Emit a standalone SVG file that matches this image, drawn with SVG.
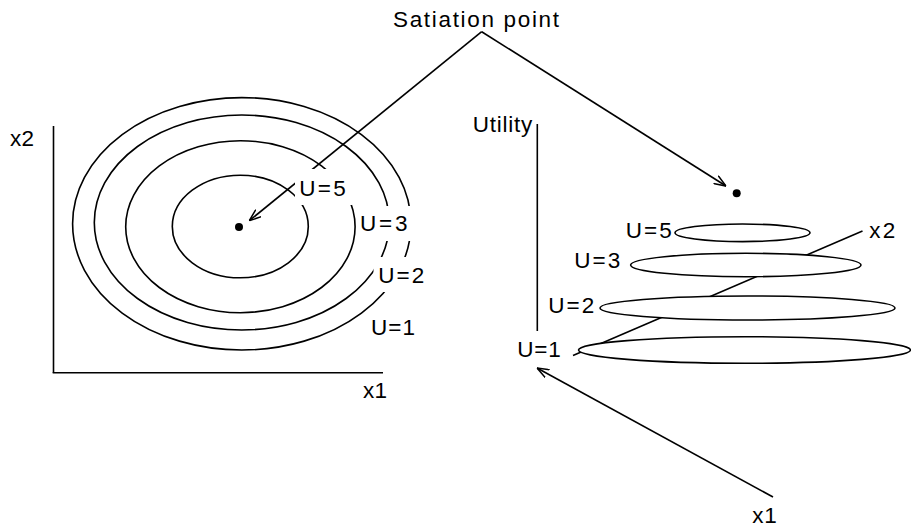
<svg xmlns="http://www.w3.org/2000/svg" width="911" height="527" viewBox="0 0 911 527">
  <style>
    .ln { stroke: #000; stroke-width: 1.6; fill: none; }
    .ring { stroke: #000; stroke-width: 1.6; fill: none; }
    .disc { stroke: #000; stroke-width: 1.6; fill: #fff; }
    .bg { fill: #fff; stroke: none; }
    text { font-family: "Liberation Sans", Arial, sans-serif; font-size: 22.5px; fill: #000; }
  </style>
  <defs>
    <marker id="arr" viewBox="0 0 12 10" refX="12" refY="5" markerWidth="12" markerHeight="10" markerUnits="userSpaceOnUse" orient="auto">
      <path d="M0,0.5 L12,5 L0,9.5" fill="none" stroke="#000" stroke-width="1.5"/>
    </marker>
  </defs>

  <!-- Left: indifference curves -->
  <g id="left-contours">
    <ellipse class="ring" cx="240.3" cy="226.5" rx="68" ry="51.3"/>
    <ellipse class="ring" cx="240.4" cy="226.7" rx="114.7" ry="86"/>
    <ellipse class="ring" cx="241.8" cy="222.5" rx="147.5" ry="107.5"/>
    <ellipse class="ring" cx="241.8" cy="223.8" rx="169.2" ry="126.2"/>
  </g>
  <g id="left-axes">
    <line class="ln" x1="53.5" y1="126" x2="53.5" y2="373"/>
    <line class="ln" x1="52.7" y1="372.8" x2="383" y2="372.8"/>
  </g>
  <g id="left-satiation-dot">
    <circle cx="239" cy="227" r="4" fill="#000"/>
  </g>

  <!-- Right: 3D utility -->
  <g id="right-axes">
    <line class="ln" x1="537.3" y1="124" x2="537.3" y2="331"/>
    <line class="ln" x1="573" y1="355.5" x2="862.5" y2="231"/>
    <line class="ln" x1="773" y1="497" x2="537" y2="368" marker-end="url(#arr)"/>
  </g>
  <g id="right-contours">
    <ellipse class="disc" cx="744.5" cy="350" rx="166" ry="13.3"/>
    <ellipse class="disc" cx="747.5" cy="308" rx="147.5" ry="12"/>
    <ellipse class="disc" cx="745.8" cy="265" rx="115.2" ry="11.7"/>
    <ellipse class="disc" cx="742.5" cy="232.8" rx="67.5" ry="8.8"/>
  </g>
  <g id="right-satiation-dot">
    <circle cx="736.7" cy="193.3" r="4" fill="#000"/>
  </g>

  <!-- Connectors from "Satiation point" -->
  <g id="connectors">
    <line class="ln" x1="481.7" y1="31.7" x2="249.3" y2="220.7" marker-end="url(#arr)"/>
    <line class="ln" x1="481.7" y1="31.7" x2="726" y2="186" marker-end="url(#arr)"/>
  </g>

  <!-- Label backgrounds (cut the lines behind labels) -->
  <g id="label-backgrounds">
    <rect class="bg" x="295" y="169" width="57" height="36"/>
    <rect class="bg" x="358" y="206" width="58" height="35"/>
    <rect class="bg" x="373.5" y="257" width="56" height="35"/>
  </g>

  <!-- Labels -->
  <g id="title"><text x="393" y="26.7" textLength="166" lengthAdjust="spacing">Satiation point</text></g>
  <g id="left-labels">
    <text x="10" y="146" textLength="24" lengthAdjust="spacing">x2</text>
    <text x="363" y="398" textLength="24" lengthAdjust="spacing">x1</text>
    <text x="299.3" y="196" textLength="46.5" lengthAdjust="spacing">U=5</text>
    <text x="360" y="231" textLength="47.5" lengthAdjust="spacing">U=3</text>
    <text x="378.3" y="282.7" textLength="46" lengthAdjust="spacing">U=2</text>
    <text x="371" y="335" textLength="44" lengthAdjust="spacing">U=1</text>
  </g>
  <g id="right-labels">
    <text x="472.7" y="131.7" textLength="59.5" lengthAdjust="spacing">Utility</text>
    <text x="625.7" y="238.3" textLength="46" lengthAdjust="spacing">U=5</text>
    <text x="574.3" y="268.3" textLength="46" lengthAdjust="spacing">U=3</text>
    <text x="548.3" y="313.3" textLength="46" lengthAdjust="spacing">U=2</text>
    <text x="517.3" y="356.7" textLength="43.5" lengthAdjust="spacing">U=1</text>
    <text x="869.3" y="238.3" textLength="26" lengthAdjust="spacing">x2</text>
    <text x="752.3" y="523.3" textLength="24.5" lengthAdjust="spacing">x1</text>
  </g>
</svg>
